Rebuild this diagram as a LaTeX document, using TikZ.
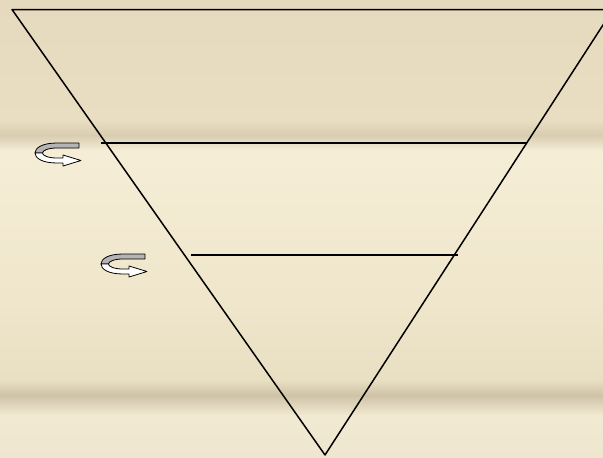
\documentclass[tikz,border=0pt]{standalone}
\usetikzlibrary{positioning}

\definecolor{paperA}{HTML}{E6DABE}
\definecolor{paperB}{HTML}{E9DDC2}
\definecolor{paperC}{HTML}{D8CCB1}
\definecolor{paperD}{HTML}{F5EDD6}
\definecolor{paperE}{HTML}{EFE6CB}
\definecolor{paperF}{HTML}{E9DFC3}
\definecolor{paperG}{HTML}{CFC3A7}
\definecolor{paperH}{HTML}{F1E9D1}
\definecolor{paperI}{HTML}{EEE6CE}
\definecolor{ribbon}{HTML}{B4B4B4}

\begin{document}
\begin{tikzpicture}[
  x=1pt, y=-1pt,
  edge/.style={line width=1.5pt, line join=round},
  rim/.style={draw=black, line width=0.8pt, line join=round},
  twist/.pic={
    % grey outer side of the turn
    \filldraw[rim, fill=ribbon]
      (0,0) -- (-22,0) .. controls (-37,0) and (-44,5) .. (-44,10)
      -- (-36.5,10) .. controls (-36.5,7.5) and (-31,5) .. (-22,5)
      -- (0,5) -- cycle;
    % white inner side with the head
    \filldraw[rim, fill=white]
      (-44,10) .. controls (-44,15) and (-37,20) .. (-22,20)
      -- (-16,20) -- (-16,23) -- (2,17.5) -- (-16,12) -- (-16,15)
      -- (-22,15) .. controls (-31,15) and (-36.5,12.5) .. (-36.5,10) -- cycle;
  }
]

\useasboundingbox (0,0) rectangle (603,458);
\clip (0,0) rectangle (603,458);

% Background: paper with two darker bands
\shade[top color=paperA, bottom color=paperB] (0,0)   rectangle (603,120.5);
\shade[top color=paperB, bottom color=paperC] (0,120) rectangle (603,135.5);
\shade[top color=paperC, bottom color=paperD] (0,135) rectangle (603,150.5);
\shade[top color=paperD, bottom color=paperE] (0,150) rectangle (603,300.5);
\shade[top color=paperE, bottom color=paperF] (0,300) rectangle (603,380.5);
\shade[top color=paperF, bottom color=paperG] (0,380) rectangle (603,395.5);
\shade[top color=paperG, bottom color=paperH] (0,395) rectangle (603,415.5);
\shade[top color=paperH, bottom color=paperI] (0,415) rectangle (603,458);

% Triangle corners
\coordinate (tl)  at (12,9.5);
\coordinate (tr)  at (613,9.5);
\coordinate (bot) at (325,455);

% Cut lines
\coordinate (cutA1) at (101,143);
\coordinate (cutA2) at (527,143);
\coordinate (cutB1) at (191,255);
\coordinate (cutB2) at (458,255);

\draw[edge] (tl) -- (tr) -- (bot) -- cycle;
\draw[edge] (cutA1) -- (cutA2);
\draw[edge] (cutB1) -- (cutB2);

% Turning arrows
\pic (turnA) at (79,143) {twist};
\pic (turnB) at (145,254) {twist};

\end{tikzpicture}
\end{document}
